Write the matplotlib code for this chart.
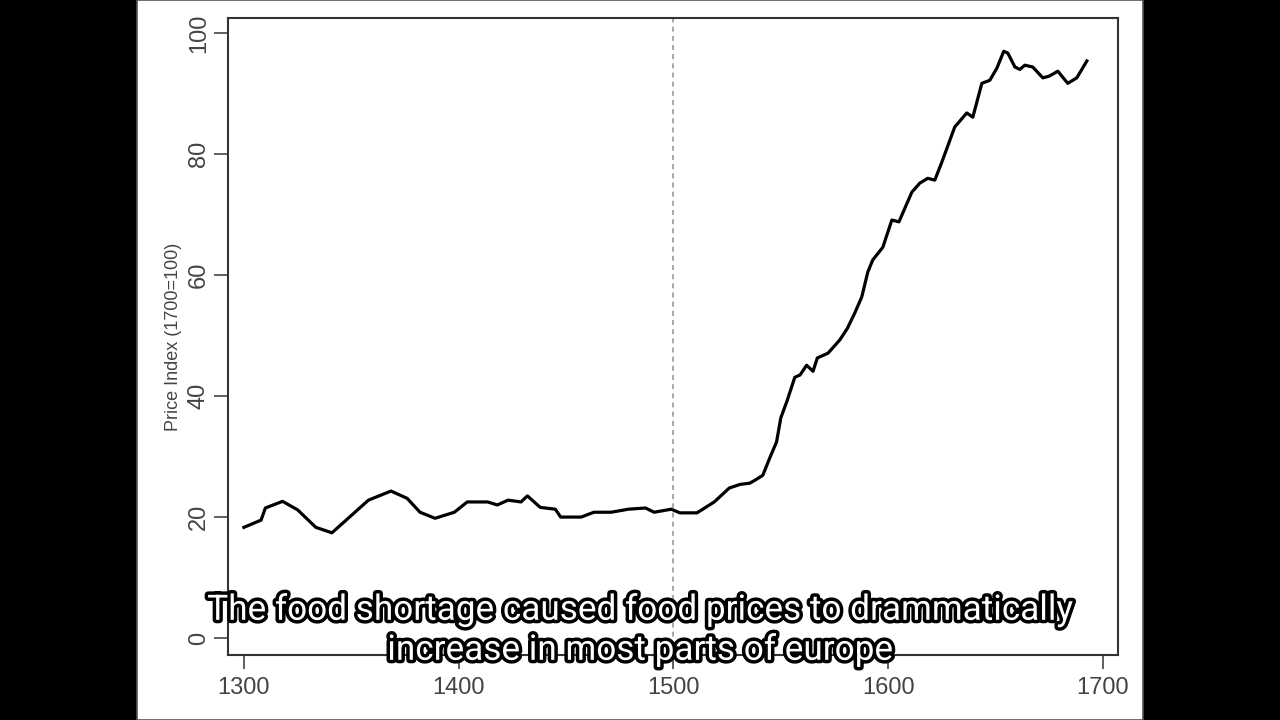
import numpy as np
import matplotlib
matplotlib.use('Agg')
import matplotlib.pyplot as plt
import matplotlib.patheffects as pe
from matplotlib.patches import Rectangle

# Price index (year, index with 1700=100)
years = [1300, 1308, 1310, 1318, 1325, 1333.5, 1341, 1358, 1368.5, 1376, 1382, 1389,
         1398, 1404, 1413.5, 1418, 1423, 1429, 1432, 1438, 1445, 1447.5, 1457, 1463,
         1471, 1479, 1487, 1491, 1499, 1503, 1511, 1519, 1526, 1531, 1535.5, 1538,
         1541.6, 1545, 1548, 1550, 1553, 1556.5, 1559, 1562, 1565, 1567, 1572,
         1577.5, 1581, 1584.4, 1587.7, 1590.5, 1592.8, 1597.5, 1601.7, 1605, 1611,
         1614.7, 1618.4, 1621.7, 1625, 1631, 1636.6, 1639.4, 1643.6, 1647.3,
         1650.6, 1653.8, 1655.7, 1659, 1661.3, 1663.6, 1667.3, 1672, 1675, 1679,
         1683.6, 1687.8, 1690, 1692.5]
price = [18.3, 19.5, 21.5, 22.6, 21.2, 18.3, 17.4, 22.8, 24.3, 23.1, 20.8, 19.8,
         20.8, 22.5, 22.5, 22.0, 22.8, 22.5, 23.5, 21.6, 21.3, 20.0, 20.0, 20.8,
         20.8, 21.3, 21.5, 20.8, 21.3, 20.7, 20.7, 22.5, 24.8, 25.4, 25.6, 26.1,
         26.9, 29.9, 32.4, 36.4, 39.3, 43.1, 43.5, 45.1, 44.1, 46.3, 47.1,
         49.3, 51.2, 53.7, 56.4, 60.5, 62.5, 64.6, 69.1, 68.8, 73.7,
         75.2, 76.0, 75.7, 78.7, 84.5, 86.8, 86.1, 91.7, 92.2,
         94.2, 97.0, 96.7, 94.4, 94.0, 94.7, 94.4, 92.6, 92.9, 93.7,
         91.7, 92.6, 93.9, 95.4]

x_ticks = [1300, 1400, 1500, 1600, 1700]
y_ticks = [0, 20, 40, 60, 80, 100]
caption = "The food shortage caused food prices to drammatically\nincrease in most parts of europe"

plt.rcParams['font.family'] = ['Liberation Sans', 'DejaVu Sans']

fig = plt.figure(figsize=(12.8, 7.2), dpi=100, facecolor='black')
# white frame of the slide, drawn underneath the axes
fig.patches.append(Rectangle((137 / 1280, 0), 1006 / 1280, 1, transform=fig.transFigure,
                             facecolor='white', edgecolor='#555555', linewidth=1.2, zorder=-1))

ax = fig.add_axes([228 / 1280, 65 / 720, 890 / 1280, 637 / 720])
ax.set_zorder(1)
ax.set_facecolor('white')
ax.plot(years, price, color='black', linewidth=2.3, solid_joinstyle='round')
ax.axvline(1500, color='#999999', linestyle=(0, (3, 2.5)), linewidth=1.2)

ax.set_xlim(1292.6, 1707)
ax.set_ylim(-2.8, 102.5)
ax.set_xticks(x_ticks)
ax.set_yticks(y_ticks)
ax.set_yticklabels([str(v) for v in y_ticks], rotation=90, va='center')
ax.tick_params(axis='both', direction='out', length=10, width=1.2, colors='#444444',
               labelsize=17)
ax.tick_params(axis='y', pad=3)
ax.tick_params(axis='x', pad=6)
for s in ax.spines.values():
    s.set_color('#333333')
    s.set_linewidth(1.5)
ax.set_ylabel('Price Index (1700=100)', fontsize=13, color='#444444', labelpad=4)

fig.text(640 / 1280, 1 - 630 / 720, caption, ha='center', va='center',
         fontsize=25.3, family='Roboto', color='white', linespacing=1.24, zorder=5,
         path_effects=[pe.withStroke(linewidth=5, foreground='black')])

fig.savefig('out.png', dpi=100, facecolor=fig.get_facecolor())
